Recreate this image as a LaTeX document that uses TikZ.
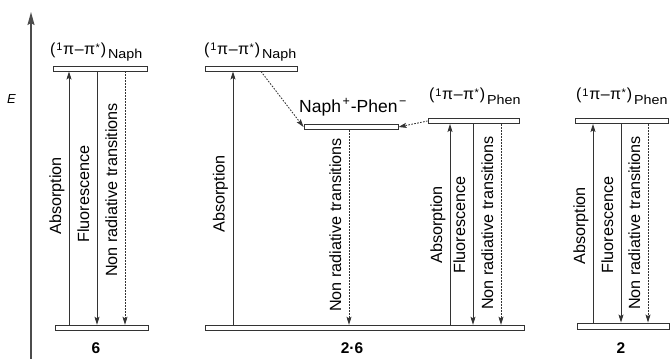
\documentclass[tikz,border=0pt]{standalone}
\usepackage{fontspec}
\setmainfont{Liberation Sans}
\usetikzlibrary{arrows.meta}
\definecolor{ln}{HTML}{333333}
\tikzset{
  lvl/.style={draw=ln, line width=0.9pt, fill=white, rectangle, inner sep=0pt},
  trans/.style={draw=ln, line width=0.85pt},
  upar/.style={trans, -{Stealth[length=8pt,width=5pt,inset=1.5pt]}},
  dnar/.style={trans, -{Stealth[length=8pt,width=5pt,inset=1.5pt]}},
  nrar/.style={trans, dash pattern=on 1.6pt off 1.4pt, -{Stealth[length=8pt,width=5pt,inset=1.5pt]}},
  vlab/.style={rotate=90, anchor=base west, inner sep=0pt, font=\fontsize{16.2}{19}\selectfont},
  toplab/.style={anchor=base west, inner sep=0pt, font=\fontsize{16}{18}\selectfont},
  numlab/.style={anchor=base, inner sep=0pt, font=\fontsize{15.5}{18}\selectfont\bfseries}
}
\newcommand{\supsm}[3]{\raisebox{#1}{\fontsize{#2}{12}\selectfont #3}}
\newcommand{\subsm}[1]{\raisebox{-4.5pt}{\scalebox{1.1}[1]{\fontsize{13}{14}\selectfont #1}}}
\newcommand{\pipi}[1]{(\kern0.8pt\supsm{3.5pt}{11}{1}\kern0.8ptπ\kern0.5pt–\kern0.5ptπ\kern0.3pt\supsm{3pt}{11}{*}\kern1pt)\kern2pt\subsm{#1}}
\begin{document}
\begin{tikzpicture}[x=1pt,y=-1pt]
\useasboundingbox (0,0) rectangle (670,359);
% energy axis
\coordinate (axb) at (31,359);
\coordinate (axt) at (31,12);
\draw[draw=black!70, line width=1.5pt, -{Stealth[length=13pt,width=7pt,inset=2pt]}] (axb) -- (axt);
\node[inner sep=0pt, font=\fontsize{13}{15}\selectfont\itshape] (E) at (11.5,99.5) {E};

% ---------- block 6 ----------
\node[lvl, minimum width=94pt, minimum height=5pt] (top6) at (100,68.5) {};
\node[lvl, minimum width=93pt, minimum height=5.5pt] (bot6) at (101.5,328) {};
\coordinate (a6) at (69,0);
\coordinate (f6) at (97,0);
\coordinate (n6) at (125,0);
\draw[upar] (a6 |- bot6.north) -- (a6 |- top6.south);
\draw[dnar] (f6 |- top6.south) -- (f6 |- bot6.north);
\draw[nrar] (n6 |- top6.south) -- (n6 |- bot6.north);
\node[vlab] (la6) at (61,235) {Absorption};
\node[vlab] (lf6) at (89,243) {Fluorescence};
\node[vlab] (ln6) at (117,277) {Non radiative transitions};
\node[toplab] (t6) at (50,54) {\pipi{Naph}};
\node[numlab] (n6lab) at (96,353) {6};

% ---------- block 2.6 ----------
\node[lvl, minimum width=92pt, minimum height=5pt] (naph26) at (251,68.5) {};
\node[lvl, minimum width=94pt, minimum height=5.5pt] (ct26) at (351,127) {};
\node[lvl, minimum width=91pt, minimum height=5pt] (phen26) at (473.5,121) {};
\node[lvl, minimum width=319pt, minimum height=5.5pt] (bot26) at (364.5,328) {};
\coordinate (dn) at (261,0);
\draw[nrar] (dn |- naph26.south) -- (ct26.west);
\draw[nrar] (phen26.west) -- (ct26.east);
\coordinate (a26) at (233,0);
\coordinate (c26) at (349,0);
\coordinate (pa26) at (450,0);
\coordinate (pf26) at (473,0);
\coordinate (pn26) at (501,0);
\draw[upar] (a26 |- bot26.north) -- (a26 |- naph26.south);
\draw[nrar] (c26 |- ct26.south) -- (c26 |- bot26.north);
\draw[upar] (pa26 |- bot26.north) -- (pa26 |- phen26.south);
\draw[dnar] (pf26 |- phen26.south) -- (pf26 |- bot26.north);
\draw[nrar] (pn26 |- phen26.south) -- (pn26 |- bot26.north);
\node[vlab] (la26) at (224.5,233) {Absorption};
\node[vlab] (lc26) at (341,312) {Non radiative transitions};
\node[vlab] (lpa26) at (442,264) {Absorption};
\node[vlab] (lpf26) at (465,274) {Fluorescence};
\node[vlab] (lpn26) at (493,310) {Non radiative transitions};
\node[toplab] (t26) at (204,54) {\pipi{Naph}};
\node[toplab, font=\fontsize{17.5}{19}\selectfont] (tct) at (299,112.5) {Naph\kern1.5pt\supsm{7pt}{12.5}{+}\kern1pt-Phen\kern1.5pt\supsm{7pt}{12.5}{−}};
\node[toplab] (tp26) at (429,99.5) {\pipi{Phen}};
\node[numlab] (n26lab) at (352,353) {2·6};

% ---------- block 2 ----------
\node[lvl, minimum width=93pt, minimum height=5pt] (phen2) at (621.5,121) {};
\node[lvl, minimum width=92pt, minimum height=6pt] (bot2) at (623,326) {};
\coordinate (a2) at (593,0);
\coordinate (f2) at (621,0);
\coordinate (n2) at (648,0);
\draw[upar] (a2 |- bot2.north) -- (a2 |- phen2.south);
\draw[dnar] (f2 |- phen2.south) -- (f2 |- bot2.north);
\draw[nrar] (n2 |- phen2.south) -- (n2 |- bot2.north);
\node[vlab] (la2) at (585,265) {Absorption};
\node[vlab] (lf2) at (613,274) {Fluorescence};
\node[vlab] (ln2) at (640,310) {Non radiative transitions};
\node[toplab] (t2) at (576,99.5) {\pipi{Phen}};
\node[numlab] (n2lab) at (621,353) {2};
\end{tikzpicture}
\end{document}
